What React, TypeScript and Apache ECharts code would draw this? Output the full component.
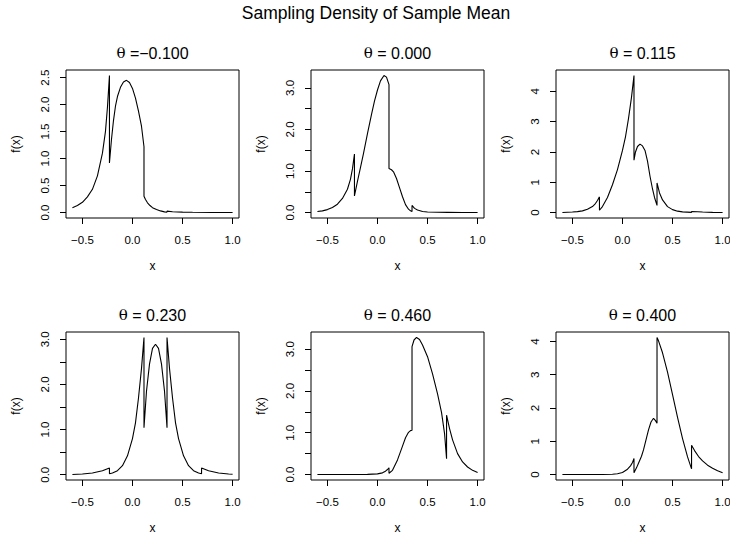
import { useEffect, useRef } from "react";
import * as echarts from "echarts";

// ---- data ----
const mainTitle = "Sampling Density of Sample Mean";
const thetaLabels = ["−0.100", " 0.000", " 0.115", " 0.230", " 0.460", " 0.400"];
const xTicks = [-0.5, 0, 0.5, 1.0];
const xDataRange = [-0.6, 1.0];

const yTicksP1 = [0, 0.5, 1.0, 1.5, 2.0, 2.5];
const yTicksHalf3 = [0, 0.5, 1.0, 1.5, 2.0, 2.5, 3.0];
const yLabelsInt3 = [0, 1, 2, 3];
const yTicksInt4 = [0, 1, 2, 3, 4];

const curve1: [number, number][] = [
  [-0.6, 0.09], [-0.55, 0.13], [-0.5, 0.19], [-0.45, 0.29], [-0.4, 0.43], [-0.35, 0.68],
  [-0.3, 1.1], [-0.27, 1.5], [-0.25, 1.95], [-0.23, 2.54],
  [-0.23, 0.92], [-0.21, 1.35], [-0.19, 1.7], [-0.17, 1.97], [-0.15, 2.15], [-0.12, 2.32],
  [-0.09, 2.42], [-0.06, 2.45], [-0.03, 2.41], [0.0, 2.3], [0.03, 2.12], [0.06, 1.88],
  [0.09, 1.6], [0.115, 1.22],
  [0.115, 0.3], [0.13, 0.24], [0.15, 0.18], [0.175, 0.13], [0.2, 0.09], [0.24, 0.055],
  [0.28, 0.03], [0.32, 0.012], [0.345, 0.008],
  [0.345, 0.025], [0.4, 0.015], [0.5, 0.007], [0.6, 0.004], [0.8, 0.001], [1.0, 0.0],
];

const curve2: [number, number][] = [
  [-0.6, 0.024], [-0.55, 0.04], [-0.5, 0.07], [-0.45, 0.12], [-0.4, 0.2], [-0.35, 0.34],
  [-0.3, 0.56], [-0.27, 0.8], [-0.25, 1.05], [-0.23, 1.41],
  [-0.23, 0.4], [-0.2, 0.75], [-0.17, 1.08], [-0.14, 1.42], [-0.1, 1.9], [-0.06, 2.36],
  [-0.03, 2.68], [0.0, 2.95], [0.03, 3.17], [0.065, 3.3], [0.09, 3.26], [0.115, 3.08],
  [0.115, 1.06], [0.14, 1.03], [0.16, 0.98], [0.19, 0.82], [0.22, 0.6], [0.25, 0.38],
  [0.28, 0.19], [0.31, 0.08], [0.33, 0.04], [0.345, 0.025],
  [0.345, 0.17], [0.37, 0.1], [0.4, 0.06], [0.45, 0.025], [0.5, 0.012], [0.6, 0.005],
  [0.7, 0.003], [0.85, 0.001], [1.0, 0.0],
];

const curve3: [number, number][] = [
  [-0.6, 0.005], [-0.5, 0.02], [-0.45, 0.035], [-0.4, 0.06], [-0.35, 0.11], [-0.3, 0.2],
  [-0.27, 0.3], [-0.25, 0.4], [-0.23, 0.52],
  [-0.23, 0.08], [-0.2, 0.2], [-0.15, 0.5], [-0.1, 0.92], [-0.05, 1.42], [0.0, 2.05],
  [0.03, 2.5], [0.06, 3.1], [0.09, 3.8], [0.115, 4.52],
  [0.115, 1.73], [0.13, 2.0], [0.15, 2.18], [0.175, 2.26], [0.2, 2.2], [0.225, 2.05],
  [0.25, 1.7], [0.275, 1.2], [0.3, 0.78], [0.32, 0.5], [0.345, 0.24],
  [0.345, 0.98], [0.37, 0.65], [0.4, 0.42], [0.45, 0.2], [0.5, 0.1], [0.55, 0.05],
  [0.6, 0.025], [0.69, 0.01],
  [0.69, 0.04], [0.75, 0.03], [0.8, 0.02], [0.9, 0.01], [1.0, 0.005],
];

const curve4: [number, number][] = [
  [-0.6, 0.005], [-0.5, 0.015], [-0.4, 0.04], [-0.3, 0.09], [-0.23, 0.15],
  [-0.23, 0.02], [-0.2, 0.04], [-0.15, 0.09], [-0.1, 0.2], [-0.05, 0.42], [0.0, 0.8],
  [0.03, 1.15], [0.06, 1.7], [0.09, 2.35], [0.115, 3.04],
  [0.115, 1.04], [0.14, 1.85], [0.17, 2.45], [0.2, 2.8], [0.23, 2.89], [0.26, 2.8],
  [0.29, 2.45], [0.32, 1.85], [0.345, 1.04],
  [0.345, 3.04], [0.37, 2.35], [0.4, 1.7], [0.43, 1.15], [0.46, 0.8], [0.51, 0.42],
  [0.56, 0.2], [0.61, 0.09], [0.66, 0.04], [0.69, 0.02],
  [0.69, 0.15], [0.76, 0.09], [0.86, 0.04], [0.96, 0.015], [1.0, 0.01],
];

const curve5: [number, number][] = [
  [-0.6, 0.0], [-0.3, 0.0], [-0.1, 0.003], [0.0, 0.015], [0.05, 0.04], [0.08, 0.08],
  [0.1, 0.12], [0.115, 0.16],
  [0.115, 0.03], [0.15, 0.1], [0.2, 0.35], [0.25, 0.68], [0.28, 0.88], [0.31, 1.01],
  [0.33, 1.05], [0.345, 1.06],
  [0.345, 3.06], [0.365, 3.22], [0.39, 3.28], [0.42, 3.23], [0.45, 3.1], [0.5, 2.82],
  [0.55, 2.41], [0.6, 1.93], [0.64, 1.48], [0.67, 0.98], [0.69, 0.38],
  [0.69, 1.42], [0.72, 1.1], [0.75, 0.83], [0.8, 0.5], [0.85, 0.3], [0.9, 0.18],
  [0.95, 0.1], [1.0, 0.05],
];

const curve6: [number, number][] = [
  [-0.6, 0.0], [-0.2, 0.0], [-0.1, 0.01], [-0.05, 0.025], [0.0, 0.06], [0.05, 0.16],
  [0.08, 0.26], [0.1, 0.36], [0.115, 0.48],
  [0.115, 0.05], [0.14, 0.2], [0.16, 0.34], [0.19, 0.55], [0.21, 0.74], [0.24, 1.1],
  [0.26, 1.34], [0.285, 1.58], [0.31, 1.69], [0.33, 1.62], [0.345, 1.54],
  [0.345, 4.12], [0.36, 4.02], [0.4, 3.66], [0.45, 3.08], [0.5, 2.4], [0.55, 1.72],
  [0.6, 1.08], [0.65, 0.53], [0.69, 0.17],
  [0.69, 0.88], [0.72, 0.72], [0.76, 0.54], [0.8, 0.41], [0.85, 0.28], [0.9, 0.19],
  [0.95, 0.11], [1.0, 0.05],
];

const curves = [curve1, curve2, curve3, curve4, curve5, curve6];
const yTickSets = [yTicksP1, yTicksHalf3, yTicksInt4, yTicksHalf3, yTicksHalf3, yTicksInt4];
const yLabelSets = [yTicksP1, yLabelsInt3, yTicksInt4, yLabelsInt3, yLabelsInt3, yTicksInt4];
const yDecimals = [1, 1, 0, 1, 1, 0];

// ---- layout ----
const COL_LEFT = [66, 311, 556];
const ROW_TOP = [70, 332];
const BOX_W = 173;
const BOX_H = 148;
const FONT = "'Liberation Sans', Arial, Helvetica, sans-serif";

const fmt = (v: number, d: number) => (v < 0 ? "−" : "") + Math.abs(v).toFixed(d);

export default function App() {
  const ref = useRef<HTMLDivElement>(null);
  useEffect(() => {
    if (!ref.current) return;
    const chart = echarts.init(ref.current, undefined, { renderer: "svg" });
    const grids: any[] = [];
    const xAxes: any[] = [];
    const yAxes: any[] = [];
    const series: any[] = [];
    const graphics: any[] = [
      {
        type: "text",
        x: 376,
        y: 13,
        style: {
          text: mainTitle,
          font: `17.5px ${FONT}`,
          fill: "#000",
          textAlign: "center",
          textVerticalAlign: "middle",
        },
      },
    ];
    const xPad = (xDataRange[1] - xDataRange[0]) * 0.04;
    curves.forEach((c, i) => {
      const col = i % 3;
      const row = Math.floor(i / 3);
      const left = COL_LEFT[col];
      const top = ROW_TOP[row];
      const ys = c.map((p) => p[1]);
      const yMaxData = Math.max(...ys);
      const yMinData = Math.min(...ys);
      const yPad = (yMaxData - yMinData) * 0.04;
      grids.push({
        left,
        top,
        width: BOX_W,
        height: BOX_H,
        show: true,
        borderColor: "#000",
        borderWidth: 1,
        backgroundColor: "transparent",
        containLabel: false,
        outerBoundsMode: "none",
      });
      xAxes.push({
        type: "value",
        gridIndex: i,
        position: "bottom",
        min: xDataRange[0] - xPad,
        max: xDataRange[1] + xPad,
        axisLine: { show: false, onZero: false },
        splitLine: { show: false },
        axisTick: {
          show: true,
          inside: false,
          length: 6,
          customValues: xTicks,
          lineStyle: { color: "#000", width: 1 },
        },
        axisLabel: {
          customValues: xTicks,
          formatter: (v: number) => fmt(v, 1),
          color: "#000",
          fontSize: 11.5,
          fontFamily: FONT,
          margin: 16,
        },
        name: "x",
        nameLocation: "middle",
        nameGap: 42,
        nameTextStyle: { color: "#000", fontSize: 12, fontFamily: FONT },
      });
      const d = yDecimals[i];
      yAxes.push({
        type: "value",
        gridIndex: i,
        position: "left",
        min: yMinData - yPad,
        max: yMaxData + yPad,
        axisLine: { show: false, onZero: false },
        splitLine: { show: false },
        axisTick: {
          show: true,
          inside: false,
          length: 6,
          customValues: yTickSets[i],
          lineStyle: { color: "#000", width: 1 },
        },
        axisLabel: {
          customValues: yLabelSets[i],
          formatter: (v: number) => fmt(v, d),
          rotate: 90,
          color: "#000",
          fontSize: 11.5,
          fontFamily: FONT,
          margin: 15,
        },
        name: "f(x)",
        nameLocation: "middle",
        nameGap: 44,
        nameRotate: 90,
        nameTextStyle: { color: "#000", fontSize: 12, fontFamily: FONT },
      });
      series.push({
        type: "line",
        xAxisIndex: i,
        yAxisIndex: i,
        data: c,
        showSymbol: false,
        symbol: "none",
        smooth: false,
        lineStyle: { color: "#000", width: 1.1 },
        silent: true,
      });
      graphics.push({
        type: "text",
        x: left + BOX_W / 2,
        y: top - 17,
        style: {
          text: `{t|θ}{e| =${thetaLabels[i].startsWith(" ") ? " " : ""}${thetaLabels[i].trim()}}`,
          textAlign: "center",
          textVerticalAlign: "middle",
          fill: "#000",
          rich: {
            t: { fontFamily: "'DejaVu Serif', 'Liberation Serif', serif", fontSize: 15, fill: "#000" },
            e: { fontFamily: FONT, fontSize: 16, fill: "#000" },
          },
        },
      });
    });
    chart.setOption({
      animation: false,
      backgroundColor: "#fff",
      grid: grids,
      xAxis: xAxes,
      yAxis: yAxes,
      series,
      graphic: graphics,
    });
    return () => chart.dispose();
  }, []);
  return (
    <div
      ref={ref}
      style={{ position: "absolute", left: 0, top: 0, width: 730, height: 535 }}
    />
  );
}
